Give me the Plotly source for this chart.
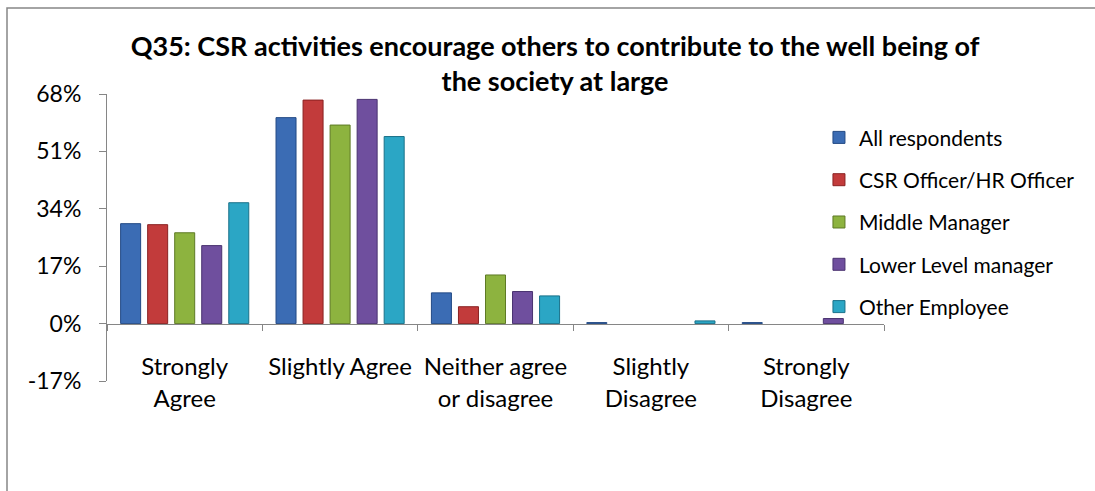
import plotly.graph_objects as go

# Response categories (x axis) and one series per respondent group (percent)
categories = [
    "Strongly<br>Agree",
    "Slightly Agree",
    "Neither agree<br>or disagree",
    "Slightly<br>Disagree",
    "Strongly<br>Disagree",
]
all_respondents = [29.6, 61.0, 9.1, 0.3, 0.3]
csr_hr_officer = [29.3, 66.2, 5.0, 0.0, 0.0]
middle_manager = [26.9, 58.8, 14.4, 0.0, 0.0]
lower_level_manager = [23.1, 66.4, 9.5, 0.0, 1.5]
other_employee = [35.8, 55.4, 8.2, 0.8, 0.0]

y_tick_values = [-17, 0, 17, 34, 51, 68]
y_tick_labels = ["-17%", "0%", "17%", "34%", "51%", "68%"]

series = [
    ("All respondents", all_respondents, "#3B6CB4", "#234A85"),
    ("CSR Officer/HR Officer", csr_hr_officer, "#C23B3B", "#8A2222"),
    ("Middle Manager", middle_manager, "#8DB33F", "#5E7A25"),
    ("Lower Level manager", lower_level_manager, "#6F4F9E", "#4A3370"),
    ("Other Employee", other_employee, "#2BA6C5", "#1A7189"),
]

FONT = "Lato, Carlito, 'Open Sans', sans-serif"
AXIS_GREY = "#868686"

fig = go.Figure()
for i, (name, values, fill, edge) in enumerate(series):
    # no outline on empty bars so zero values leave no stub on the axis
    edge_widths = [1 if v > 0 else 0 for v in values]
    fig.add_trace(
        go.Bar(
            name=name,
            x=categories,
            y=values,
            legendgroup=f"g{i}",
            marker=dict(color=fill, line=dict(color=edge, width=edge_widths)),
        )
    )

fig.update_layout(
    width=1095,
    height=491,
    paper_bgcolor="white",
    plot_bgcolor="white",
    font=dict(family=FONT, color="#000000", size=21),
    margin=dict(l=107, r=211, t=94, b=110, autoexpand=False),
    barmode="group",
    bargap=0.13,
    bargroupgap=0.26,
    title=dict(
        text="Q35: CSR activities encourage others to contribute to the well being of<br>the society at large",
        font=dict(family=FONT, size=27, color="#000000", weight="bold"),
        xref="paper",
        x=0.5766,
        xanchor="center",
        yref="container",
        y=0.886,
        yanchor="top",
    ),
    legend=dict(
        x=0.9163,
        xanchor="left",
        y=0.919,
        yanchor="top",
        font=dict(family=FONT, size=21, color="#000000"),
        tracegroupgap=12,
        bgcolor="rgba(0,0,0,0)",
        itemclick=False,
    ),
    showlegend=True,
)

fig.update_yaxes(
    range=[-17, 68],
    tickvals=y_tick_values,
    ticktext=y_tick_labels,
    showline=True,
    linecolor=AXIS_GREY,
    linewidth=1,
    ticks="outside",
    ticklen=7,
    tickcolor=AXIS_GREY,
    showgrid=False,
    zeroline=False,
    ticklabelstandoff=13,
    tickfont=dict(family=FONT, size=23, color="#000000"),
)

fig.update_xaxes(
    type="category",
    anchor="free",
    position=17 / 85,
    showline=True,
    linecolor=AXIS_GREY,
    linewidth=1,
    ticks="outside",
    tickson="boundaries",
    ticklen=6,
    tickcolor=AXIS_GREY,
    showgrid=False,
    tickangle=0,
    ticklabelstandoff=22,
    tickfont=dict(family=FONT, size=24, color="#000000"),
)

# Chart-area frame
fig.add_shape(
    type="rect",
    xref="paper",
    yref="paper",
    x0=(7 - 107) / 777,
    x1=(1100 - 107) / 777,
    y0=(381 - 500) / 287,
    y1=(381 - 8) / 287,
    line=dict(color=AXIS_GREY, width=1.5),
    fillcolor="rgba(0,0,0,0)",
    layer="below",
)

fig.write_html("out.html")
